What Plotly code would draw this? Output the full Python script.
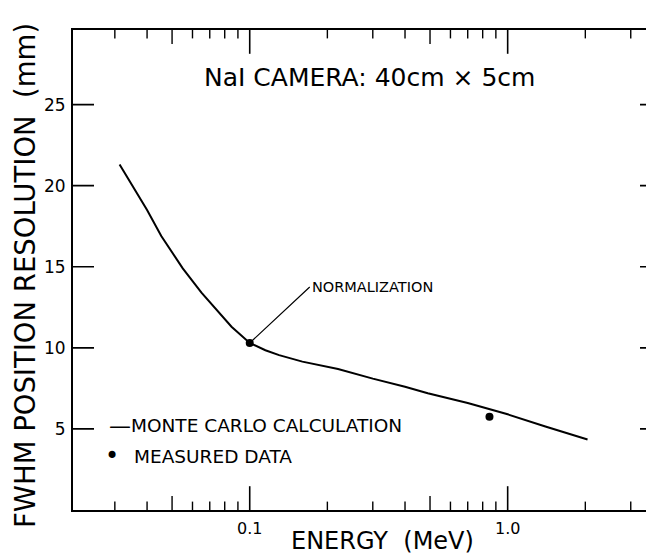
import plotly.graph_objects as go
import math

# ---- data ----
energy_mev = [0.0313, 0.035, 0.04, 0.0454, 0.055, 0.065, 0.075, 0.085, 0.1, 0.115,
              0.13, 0.16, 0.22, 0.3, 0.4, 0.49, 0.7, 1.0, 1.4, 2.04]
fwhm_mm = [21.3, 20.0, 18.5, 16.9, 14.9, 13.4, 12.3, 11.3, 10.3, 9.85,
           9.55, 9.15, 8.7, 8.1, 7.6, 7.2, 6.6, 5.9, 5.15, 4.35]

norm_energy = [0.1]
norm_fwhm = [10.3]

meas_energy = [0.85]
meas_fwhm = [5.75]

x_major = [0.1, 1.0]
x_major_text = ["0.1", "1.0"]
x_medium = [0.05, 0.5]
x_minor = [0.03, 0.04, 0.06, 0.07, 0.08, 0.09, 0.2, 0.3, 0.4, 0.6, 0.7, 0.8, 0.9, 2, 3]
y_ticks = [5, 10, 15, 20, 25]

FONT = "DejaVu Sans, sans-serif"
W, H = 654, 557
ML, MR, MT, MB = 65, 1, 22, 55
PW, PH = W - ML - MR, H - MT - MB

x_lo, x_hi = 0.02065, 3.93
y_lo, y_hi = 0, 29.6

fig = go.Figure()
fig.add_trace(go.Scatter(x=energy_mev, y=fwhm_mm, mode="lines",
                         line=dict(color="black", width=2), showlegend=False))
fig.add_trace(go.Scatter(x=norm_energy + meas_energy, y=norm_fwhm + meas_fwhm, mode="markers",
                         marker=dict(color="black", size=8), showlegend=False))

# inside tick marks on all four sides: half-length markers clipped by the plot area
def tick_trace(xs, ys, symbol, length, width):
    fig.add_trace(go.Scatter(x=xs, y=ys, mode="markers", cliponaxis=True,
                             marker=dict(symbol=symbol, size=2 * length, color="black",
                                         line=dict(color="black", width=width)),
                             showlegend=False, hoverinfo="skip"))

for vals, length, width in ((x_major, 17, 1.6), (x_medium, 10, 1.4), (x_minor, 6, 1.4)):
    tick_trace(vals + vals, [y_lo] * len(vals) + [y_hi] * len(vals),
               "line-ns-open", length, width)
tick_trace([x_lo] * len(y_ticks) + [x_hi] * len(y_ticks), y_ticks + y_ticks,
           "line-ew-open", 15, 1.7)

fig.update_layout(
    width=W, height=H,
    margin=dict(l=ML, r=MR, t=MT, b=MB, autoexpand=False),
    paper_bgcolor="white", plot_bgcolor="white",
    font=dict(family=FONT, color="black"),
    showlegend=False,
    xaxis=dict(type="log", range=[math.log10(x_lo), math.log10(x_hi)], tickmode="array",
               tickvals=x_major, ticktext=x_major_text, ticks="", showline=True,
               linecolor="black", linewidth=2, mirror=True, showgrid=False,
               zeroline=False, tickfont=dict(size=16), ticklabelstandoff=3,
               automargin=False),
    yaxis=dict(range=[y_lo, y_hi], tickmode="array", tickvals=y_ticks, ticks="",
               showline=True, linecolor="black", linewidth=2, mirror=True,
               showgrid=False, zeroline=False, tickfont=dict(size=17),
               ticklabelstandoff=2, automargin=False),
)

def px(xp):
    return (xp - ML) / PW

def py(yp):
    return (H - MB - yp) / PH

ann = []
ann.append(dict(text="NaI CAMERA: 40cm × 5cm", xref="paper", yref="paper",
                x=px(362), y=py(70), xanchor="center", yanchor="middle",
                showarrow=False, font=dict(size=25)))
ann.append(dict(text="ENERGY  (MeV)", xref="paper", yref="paper",
                x=px(374), y=py(533), xanchor="center", yanchor="middle",
                showarrow=False, font=dict(size=24)))
ann.append(dict(text="FWHM POSITION RESOLUTION  (mm)", xref="paper", yref="paper",
                x=px(17), y=py(268), xanchor="center", yanchor="middle",
                showarrow=False, textangle=-90, font=dict(size=27.5)))
ann.append(dict(text="NORMALIZATION", x=math.log10(norm_energy[0]), y=norm_fwhm[0],
                xref="x", yref="y", showarrow=True, arrowhead=0, arrowwidth=1.2,
                arrowcolor="black", ax=60, ay=-56, xanchor="left", yanchor="middle",
                font=dict(size=14.5)))
ann.append(dict(text="—", xref="paper", yref="paper", x=px(125), y=py(417),
                xanchor="right", yanchor="middle", showarrow=False, font=dict(size=22)))
ann.append(dict(text="MONTE CARLO CALCULATION", xref="paper", yref="paper",
                x=px(121), y=py(417), xanchor="left", yanchor="middle",
                showarrow=False, font=dict(size=18.5)))
ann.append(dict(text="•", xref="paper", yref="paper", x=px(104), y=py(448),
                xanchor="center", yanchor="middle", showarrow=False, font=dict(size=24)))
ann.append(dict(text="MEASURED DATA", xref="paper", yref="paper",
                x=px(124), y=py(448), xanchor="left", yanchor="middle",
                showarrow=False, font=dict(size=18.5)))
fig.update_layout(annotations=ann)

fig.write_html("out.html")
